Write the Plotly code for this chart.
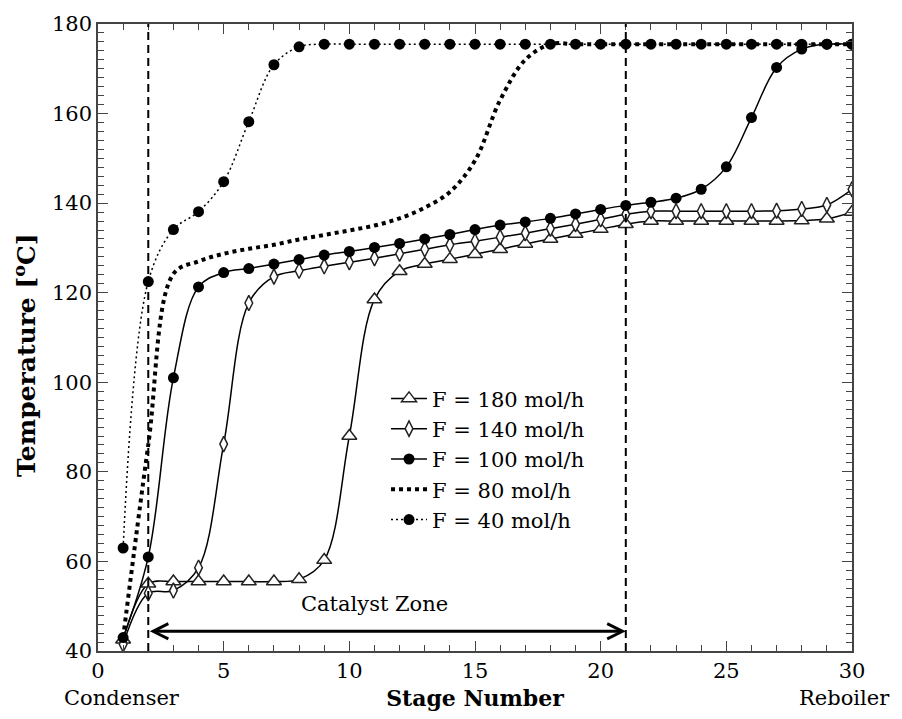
import plotly.graph_objects as go

stages = list(range(1, 31))

t_f180 = [42.5, 55.0, 55.5, 55.5, 55.5, 55.5, 55.5, 56.0, 60.3, 88.0,
          118.5, 124.8, 126.4, 127.5, 128.6, 129.7, 130.9, 132.0, 133.1, 134.2,
          135.3, 136.0, 136.0, 136.0, 136.0, 136.0, 136.0, 136.1, 136.5, 138.0]
t_f140 = [41.5, 52.9, 53.5, 58.6, 86.2, 117.7, 123.6, 124.9, 125.9, 126.8,
          127.7, 128.7, 129.7, 130.7, 131.5, 132.4, 133.3, 134.3, 135.3, 136.4,
          137.5, 138.2, 138.2, 138.2, 138.2, 138.2, 138.3, 138.7, 139.6, 143.1]
t_f100 = [43.0, 61.0, 101.0, 121.3, 124.5, 125.4, 126.4, 127.4, 128.4, 129.2,
          130.1, 131.0, 132.0, 133.0, 134.1, 135.1, 135.8, 136.6, 137.6, 138.6,
          139.5, 140.2, 141.1, 143.1, 148.1, 159.1, 170.3, 174.4, 175.5, 175.5]
t_f80 = [43.0, 86.0, 124.2, 127.0, 128.7, 129.8, 130.7, 131.9, 132.9, 133.9,
         135.0, 136.6, 139.0, 142.5, 149.5, 163.0, 172.0, 175.5, 175.5, 175.5,
         175.5, 175.5, 175.5, 175.5, 175.5, 175.5, 175.5, 175.5, 175.5, 175.5]
t_f40 = [63.0, 122.5, 134.1, 138.1, 144.8, 158.2, 170.9, 174.9, 175.5, 175.5,
         175.5, 175.5, 175.5, 175.5, 175.5, 175.5, 175.5, 175.5, 175.5, 175.5,
         175.5, 175.5, 175.5, 175.5, 175.5, 175.5, 175.5, 175.5, 175.5, 175.5]

series_names = ["F = 180 mol/h", "F = 140 mol/h", "F = 100 mol/h", "F = 80 mol/h", "F = 40 mol/h"]

catalyst_start = 2
catalyst_end = 21
arrow_temp = 44.4
zone_label_stage = 11.0
zone_label_temp = 50.5
x_ticks = [0, 5, 10, 15, 20, 25, 30]
y_ticks = [40, 60, 80, 100, 120, 140, 160, 180]

FONT = "DejaVu Serif, Liberation Serif, serif"

fig = go.Figure()

fig.add_trace(go.Scatter(
    x=stages, y=t_f180, name=series_names[0], mode="lines+markers",
    line=dict(color="black", width=1.5, shape="spline"),
    marker=dict(symbol="triangle-up", size=13, color="white",
                line=dict(color="#222", width=1.5)),
))
fig.add_trace(go.Scatter(
    x=stages, y=t_f140, name=series_names[1], mode="lines+markers",
    line=dict(color="black", width=1.5, shape="spline"),
    marker=dict(symbol="diamond-tall", size=11, color="white",
                line=dict(color="#222", width=1.5)),
))
fig.add_trace(go.Scatter(
    x=stages, y=t_f100, name=series_names[2], mode="lines+markers",
    line=dict(color="black", width=1.5, shape="spline"),
    marker=dict(symbol="circle", size=11, color="black"),
))
fig.add_trace(go.Scatter(
    x=stages, y=t_f80, name=series_names[3], mode="lines",
    line=dict(color="black", width=4, dash="4px,4px", shape="spline"),
))
fig.add_trace(go.Scatter(
    x=stages, y=t_f40, name=series_names[4], mode="lines+markers",
    line=dict(color="black", width=1.5, dash="2px,3px", shape="spline"),
    marker=dict(symbol="circle", size=11, color="black"),
))

for xv in (catalyst_start, catalyst_end):
    fig.add_shape(type="line", xref="x", yref="y", x0=xv, x1=xv, y0=40, y1=180,
                  line=dict(color="black", width=2, dash="8px,5px"), layer="above")

fig.add_annotation(x=catalyst_end, y=arrow_temp, ax=catalyst_start, ay=arrow_temp,
                   xref="x", yref="y", axref="x", ayref="y", text="",
                   showarrow=True, arrowhead=5, startarrowhead=5, arrowside="end+start",
                   arrowwidth=3, arrowsize=1.0, startarrowsize=1.0, arrowcolor="black")
fig.add_annotation(x=zone_label_stage, y=zone_label_temp, xref="x", yref="y",
                   text="Catalyst Zone", showarrow=False,
                   font=dict(family=FONT, size=21, color="black"))

fig.add_annotation(x=0.032, y=-0.0754, xref="paper", yref="paper", xanchor="center", yanchor="middle",
                   text="Condenser", showarrow=False,
                   font=dict(family=FONT, size=21, color="black"))
fig.add_annotation(x=0.99, y=-0.0754, xref="paper", yref="paper", xanchor="center", yanchor="middle",
                   text="Reboiler", showarrow=False,
                   font=dict(family=FONT, size=21, color="black"))
fig.add_annotation(x=-0.097, y=0.472, xref="paper", yref="paper", xanchor="center", yanchor="middle",
                   textangle=-90,
                   text="<b>Temperature [<sup>o</sup>C]</b>", showarrow=False,
                   font=dict(family=FONT, size=25, color="black"))

axis_common = dict(
    showline=True, linecolor="#444", linewidth=1.5, mirror="ticks",
    ticks="inside", tickcolor="#444", tickwidth=1.2, ticklen=10,
    showgrid=False, zeroline=False,
    tickfont=dict(family=FONT, size=21, color="black"),
)

fig.update_xaxes(range=[0, 30], tickvals=x_ticks,
                 minor=dict(ticks="inside", dtick=1, ticklen=6, tickcolor="#444", tickwidth=1.2),
                 title=dict(text="<b>Stage Number</b>", standoff=9,
                            font=dict(family=FONT, size=22, color="black")),
                 **axis_common)
fig.update_yaxes(range=[40, 180], tickvals=y_ticks,
                 minor=dict(ticks="inside", dtick=2, ticklen=6, tickcolor="#444", tickwidth=1.2),
                 **axis_common)

fig.update_layout(
    width=902, height=719,
    margin=dict(l=98, r=50, t=15, b=67),
    plot_bgcolor="white", paper_bgcolor="white",
    font=dict(family=FONT, size=21, color="black"),
    legend=dict(x=0.382, y=0.435, xanchor="left", yanchor="top",
                bgcolor="rgba(0,0,0,0)", borderwidth=0,
                font=dict(family=FONT, size=21, color="black"),
                tracegroupgap=0, itemwidth=36),
)

fig.write_html("out.html")
